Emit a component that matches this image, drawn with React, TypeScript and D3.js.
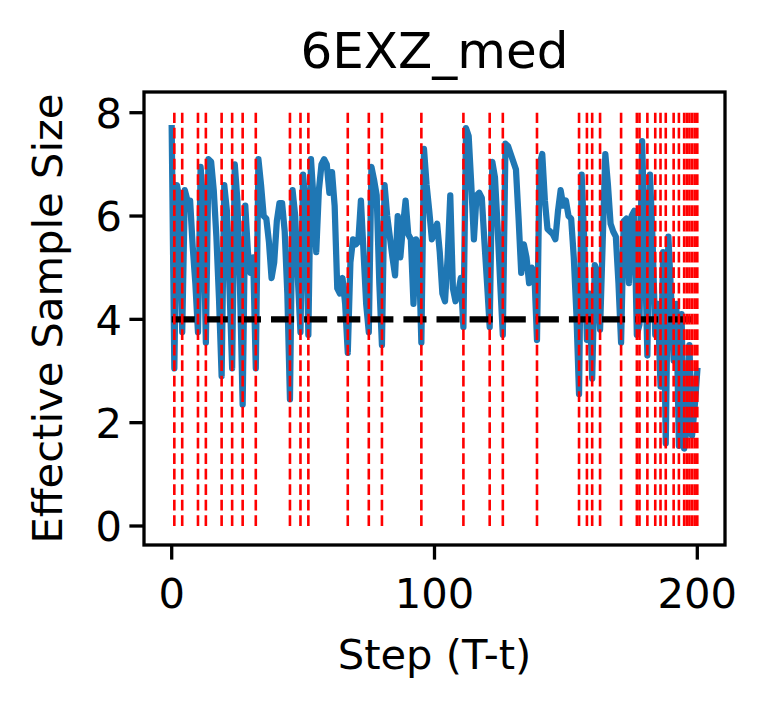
import * as d3 from 'd3';

// ESS per step (T-t)
const essValues = [
  7.7, 3.05, 6.6, 6.3, 3.75, 6.5, 6.3, 6.3, 5.4, 4.7,
  3.75, 6.95, 6.2, 3.55, 7.1, 7.05, 6.5, 5.6, 4.4, 2.9,
  6.6, 6.1, 4.6, 3.05, 7.0, 6.3, 4.6, 2.35, 6.2, 5.3,
  4.9, 5.2, 3.05, 7.1, 6.6, 6.0, 5.95, 5.5, 4.8, 5.1,
  5.9, 6.25, 6.25, 5.7, 4.5, 2.45, 6.5, 6.0, 4.8, 3.75,
  6.8, 6.2, 3.7, 7.1, 6.3, 5.3, 6.5, 7.0, 7.1, 7.0,
  6.45, 6.85, 6.2, 4.6, 4.5, 4.8, 4.3, 3.35, 5.1, 5.55,
  5.45, 5.5, 6.3, 5.3, 4.3, 3.75, 6.95, 6.7, 6.4, 4.7,
  3.5, 6.6, 6.0, 5.6, 5.2, 4.85, 6.0, 5.2, 5.8, 6.3,
  5.65, 5.55, 4.3, 5.55, 5.4, 3.55, 7.3, 6.6, 6.1, 5.55,
  5.7, 5.85, 5.3, 4.5, 4.35, 5.2, 6.4, 4.6, 4.35, 4.5,
  4.8, 3.85, 7.7, 7.55, 6.6, 5.55, 6.4, 6.45, 6.35, 5.5,
  4.7, 3.85, 7.05, 6.75, 5.8, 4.7, 3.7, 7.4, 7.35, 7.2,
  7.05, 6.9, 5.95, 4.9, 5.45, 5.2, 4.7, 5.0, 4.9, 3.6,
  7.0, 7.2, 6.3, 5.75, 5.7, 5.65, 5.55, 6.1, 6.5, 6.2,
  6.3, 6.0, 5.95, 5.2, 4.1, 2.55, 6.8, 5.5, 3.6, 4.5,
  2.85, 5.05, 4.9, 3.8, 5.5, 7.2, 6.6, 5.85, 5.7, 5.6,
  4.7, 3.55, 5.9, 5.95, 4.7, 6.0, 6.1, 3.7, 3.9, 7.45,
  5.5, 3.3, 6.8, 5.5, 3.7, 4.3, 2.7, 5.3, 1.6, 5.6,
  4.5, 3.2, 4.3, 1.55, 4.1, 1.5, 1.9, 3.5, 1.75, 2.3,
  3.0,
];

// steps where resampling happened (red dashed lines)
const resampleSteps = [
  1, 4, 10, 13, 19, 23, 27, 32, 45, 49, 52, 67, 75, 80, 95, 111, 121, 126,
  139, 155, 158, 160, 163, 171, 177, 178, 181, 184, 186, 188, 191, 193,
  195, 196, 197, 198, 199, 200,
];

const xTicks = [0, 100, 200];
const yTicks = [0, 2, 4, 6, 8];
const threshold = 4;

const W = 766;
const H = 705;
const FONT = '"DejaVu Sans", sans-serif';
const FS = 41.67;

export default function App() {
  const frame = { left: 144, right: 725, top: 92, bottom: 545 };
  const x = d3.scaleLinear().domain([0, 200]).range([171.7, 697.3]);
  const y = d3.scaleLinear().domain([0, 8]).range([526, 112.7]);

  const line = d3.line<number>()
    .x((_, i) => x(i))
    .y(d => y(d));

  return (
    <svg width={W} height={H} style={{ position: 'absolute', left: 0, top: 0, background: '#fff' }}
      fontFamily={FONT} fontSize={FS}>
      <rect width={W} height={H} fill="#fff" />

      {/* ESS trace */}
      <path d={line(essValues) ?? ''} fill="none" stroke="#1f77b4" strokeWidth={6.25}
        strokeLinejoin="round" strokeLinecap="square" />

      {/* threshold */}
      <line x1={x(0)} x2={x(199)} y1={y(threshold)} y2={y(threshold)}
        stroke="#000" strokeWidth={6.25} strokeDasharray="23.1 10" />

      {/* resampling steps */}
      {resampleSteps.map(s => (
        <line key={s} x1={x(s)} x2={x(s)} y1={y(0)} y2={y(8)}
          stroke="#ff0000" strokeWidth={2.6} strokeDasharray="10.8 4.7" />
      ))}

      {/* frame */}
      <rect x={frame.left} y={frame.top} width={frame.right - frame.left} height={frame.bottom - frame.top}
        fill="none" stroke="#000" strokeWidth={3.3} strokeLinejoin="miter" />

      {xTicks.map(t => (
        <g key={'x' + t}>
          <line x1={x(t)} x2={x(t)} y1={frame.bottom} y2={frame.bottom + 14.6} stroke="#000" strokeWidth={3.3} />
          <text x={x(t)} y={608} textAnchor="middle">{t}</text>
        </g>
      ))}
      {yTicks.map(t => (
        <g key={'y' + t}>
          <line x1={frame.left - 14.6} x2={frame.left} y1={y(t)} y2={y(t)} stroke="#000" strokeWidth={3.3} />
          <text x={122} y={y(t) + 15.2} textAnchor="end">{t}</text>
        </g>
      ))}

      <text x={(frame.left + frame.right) / 2} y={68} textAnchor="middle" fontSize={50}>6EXZ_med</text>
      <text x={(frame.left + frame.right) / 2} y={669} textAnchor="middle">Step (T-t)</text>
      <text transform={`translate(62, ${(frame.top + frame.bottom) / 2}) rotate(-90)`} textAnchor="middle">
        Effective Sample Size
      </text>
    </svg>
  );
}
